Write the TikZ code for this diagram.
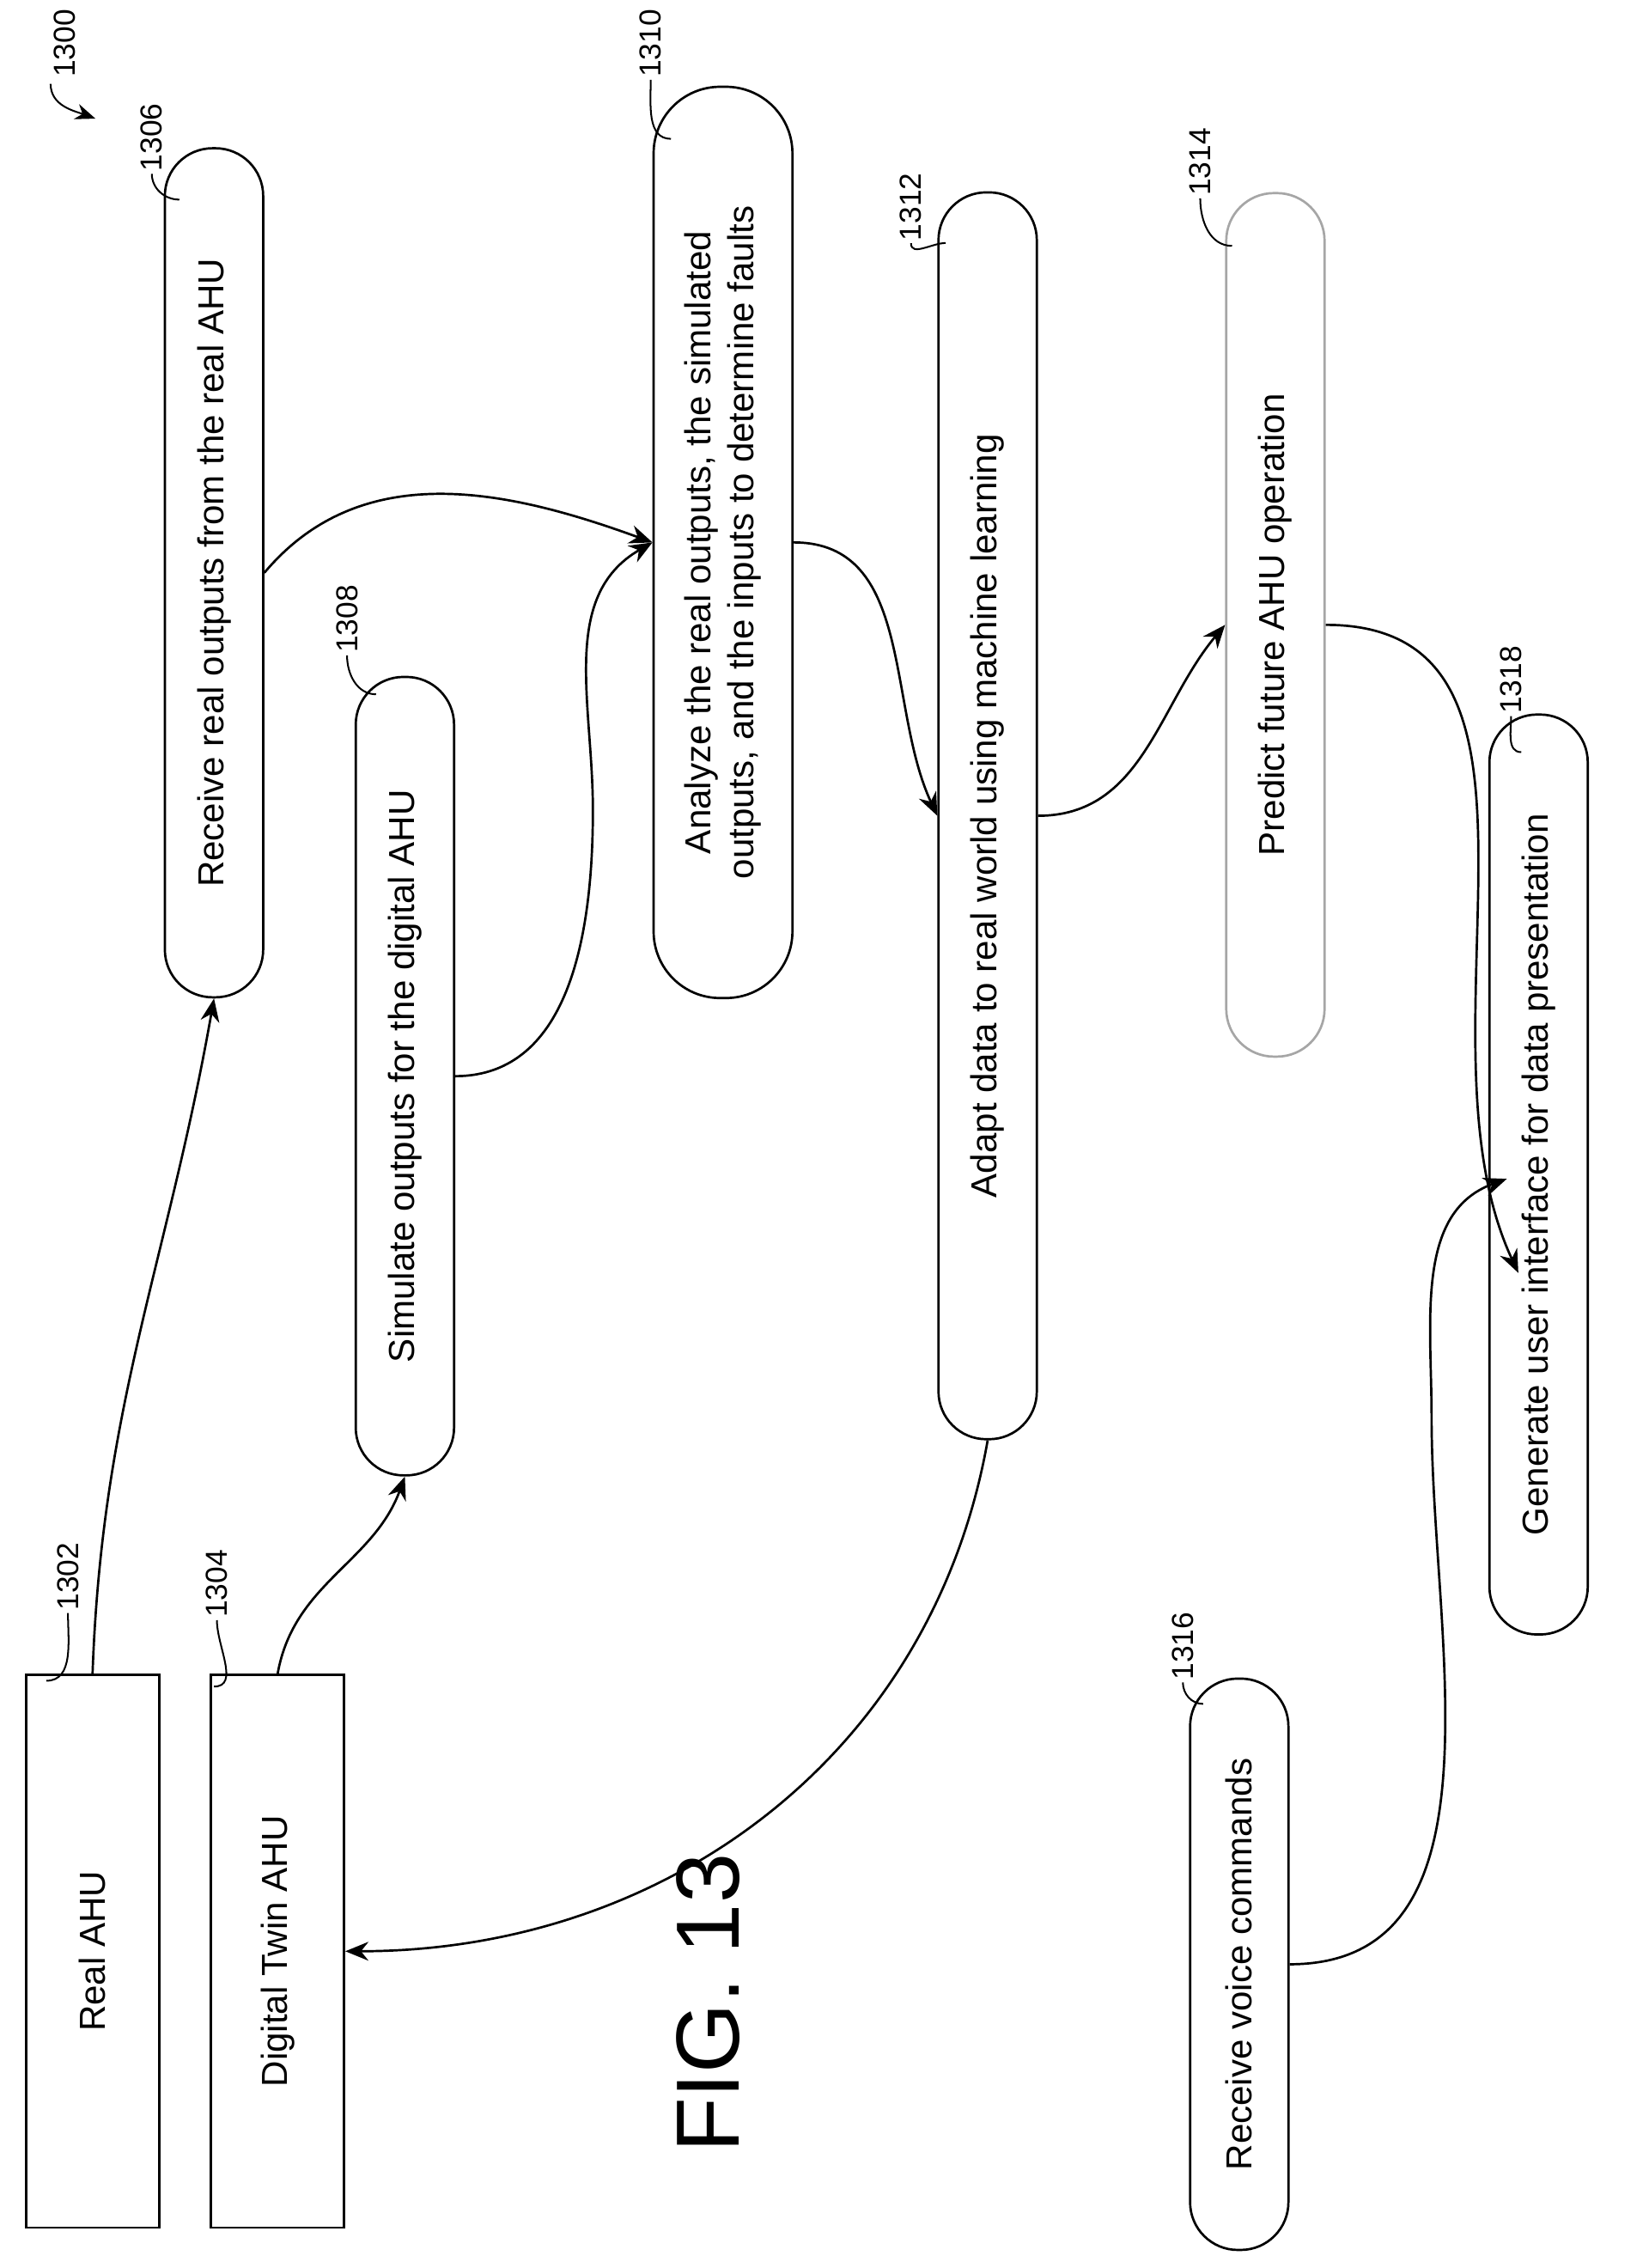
\documentclass[tikz,border=0pt]{standalone}
\usepackage{fontspec}
\setmainfont{Liberation Sans}
\usetikzlibrary{arrows.meta}
\begin{document}
\begin{tikzpicture}[x=1pt,y=-1pt,line width=1.6pt,
  box/.style={draw,rotate=90,minimum height=92pt,inner sep=0pt,font=\fontsize{25}{30}\selectfont},
  stepbox/.style={draw,rotate=90,rounded corners=33pt,minimum height=68pt,inner sep=0pt,font=\fontsize{25}{30}\selectfont,align=center},
  lbl/.style={rotate=90,font=\fontsize{21}{24}\selectfont,inner sep=1pt},
  lead/.style={line width=1.2pt},
  arr/.style={-{Stealth[length=16pt,width=13pt]}}]
\useasboundingbox (0,0) rectangle (1140,1568);
% blocks
\node[box,minimum width=382pt] (real) at (64,1349) {Real AHU};
\node[box,minimum width=382pt] (twin) at (192,1349) {Digital Twin AHU};
\node[stepbox,minimum width=587pt] (recv) at (148,396) {Receive real outputs from the real AHU};
\node[stepbox,minimum width=552pt] (sim) at (280,744) {Simulate outputs for the digital AHU};
\node[stepbox,minimum width=630pt,minimum height=96pt,rounded corners=46pt] (anl) at (500,375)
  {Analyze the real outputs, the simulated\\outputs, and the inputs to determine faults};
\node[stepbox,minimum width=862pt] (adpt) at (683,564) {Adapt data to real world using machine learning};
\node[stepbox,minimum width=597pt,draw=gray!70] (pred) at (882,432) {Predict future AHU operation};
\node[stepbox,minimum width=395pt] (voice) at (857,1358) {Receive voice commands};
\node[stepbox,minimum width=636pt] (gui) at (1064,812) {Generate user interface for data presentation};
\node[rotate=90,font=\fontsize{62}{70}\selectfont] (fig) at (490,1385) {FIG. 13};
% reference numerals
\node[lbl] (l1300) at (45,30) {1300};
\node[lbl] (l1302) at (47,1090) {1302};
\node[lbl] (l1304) at (150,1095) {1304};
\node[lbl] (l1306) at (105,95) {1306};
\node[lbl] (l1308) at (240,428) {1308};
\node[lbl] (l1310) at (450,30) {1310};
\node[lbl] (l1312) at (630,143) {1312};
\node[lbl] (l1314) at (830,112) {1314};
\node[lbl] (l1316) at (818,1138) {1316};
\node[lbl] (l1318) at (1045,470) {1318};
\draw[lead,-{Stealth[length=14pt,width=11pt]}] (35,58) to[out=-90,in=160] (66,82);
\draw[lead] (l1302.west) to[out=-90,in=0] (32,1162);
\draw[lead] (l1304.west) to[out=-90,in=0] (148,1166);
\draw[lead] (l1306.west) to[out=-90,in=180] (124,138);
\draw[lead] (l1308.west) to[out=-90,in=180] (260,480);
\draw[lead] (l1310.west) to[out=-90,in=180] (464,96);
\draw[lead] (l1312.west) to[out=-90,in=180] (654,168);
\draw[lead] (l1314.west) to[out=-90,in=180] (852,170);
\draw[lead] (l1316.west) to[out=-90,in=180] (832,1178);
\draw[lead] (l1318.west) to[out=-90,in=180] (1052,520);
% flow
\draw[arr] (real.east) to[out=88,in=-100] (recv.west);
\draw[arr] (twin.east) to[out=80,in=-110] (sim.west);
\draw[arr] (recv.south) to[out=50,in=160] (anl.north);
\draw[arr] (sim.south) to[out=0,in=-90] (410,560) to[out=90,in=-150] (anl.north);
\draw[arr] (anl.south) to[out=0,in=115] (adpt.north);
\draw[arr] (adpt.south) to[out=0,in=-130] (pred.north);
\draw[arr] (pred.south) to[out=0,in=115] (1050,880);
\draw[arr] (voice.south) to[out=0,in=-90] (990,980) to[out=90,in=-160] (1042,815);
\draw[arr] (adpt.west) to[out=-100,in=0] (twin.south);
\end{tikzpicture}
\end{document}
